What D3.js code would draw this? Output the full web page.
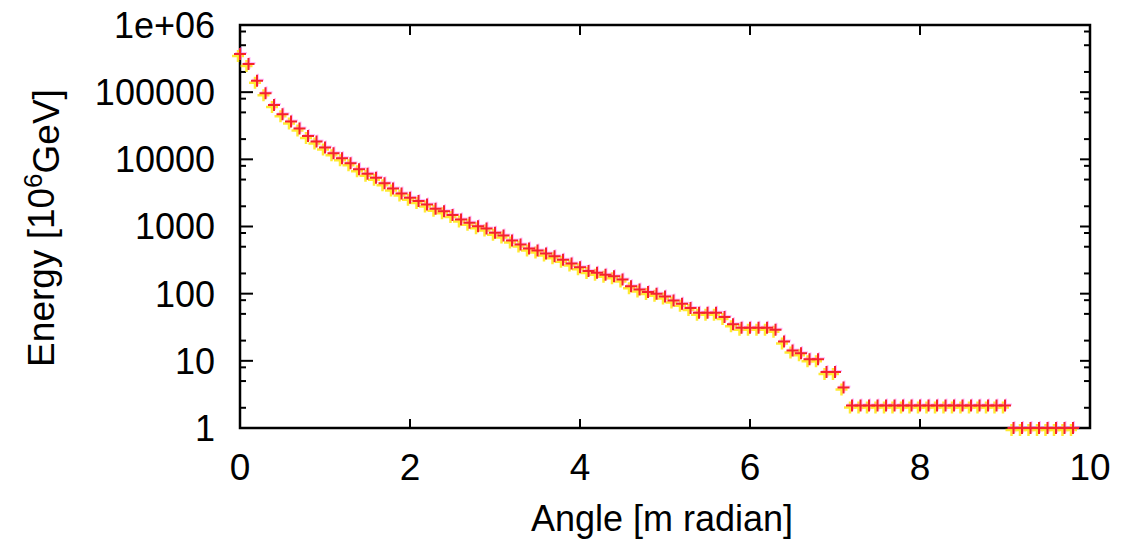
<!DOCTYPE html>
<html>
<head>
<meta charset="utf-8">
<script src="https://cdn.jsdelivr.net/npm/d3@7"></script>
<style>
  body { margin: 0; background: #fff; }
  svg { display: block; }
</style>
</head>
<body>
<div id="chart"></div>
<script>
// angle [m radian] and energy [10^6 GeV]
var angles = [0.0,0.1,0.2,0.3,0.4,0.5,0.6,0.7,0.8,0.9,
              1.0,1.1,1.2,1.3,1.4,1.5,1.6,1.7,1.8,1.9,
              2.0,2.1,2.2,2.3,2.4,2.5,2.6,2.7,2.8,2.9,
              3.0,3.1,3.2,3.3,3.4,3.5,3.6,3.7,3.8,3.9,
              4.0,4.1,4.2,4.3,4.4,4.5,4.6,4.7,4.8,4.9,
              5.0,5.1,5.2,5.3,5.4,5.5,5.6,5.7,5.8,5.9,
              6.0,6.1,6.2,6.3,6.4,6.5,6.6,6.7,6.8,6.9,
              7.0,7.1,7.2,7.3,7.4,7.5,7.6,7.7,7.8,7.9,
              8.0,8.1,8.2,8.3,8.4,8.5,8.6,8.7,8.8,8.9,
              9.0,9.1,9.2,9.3,9.4,9.5,9.6,9.7,9.8];
var energies = [369000,262000,148000,96600,64600,47000,36600,28700,22300,18400,
                15000,12300,10400,8710,7100,6120,5330,4390,3690,3110,
                2680,2390,2130,1840,1690,1480,1270,1140,1010,933,
                805,735,618,538,470,439,395,361,321,281,
                247,217,204,192,181,162,129,115,106,100,
                91,79,71,61,52,52,52,45,35,31,
                31,31,31,29,19.4,14.3,13,10.6,10.6,6.8,
                6.8,4.0,2.17,2.17,2.17,2.17,2.17,2.17,2.17,2.17,
                2.17,2.17,2.17,2.17,2.17,2.17,2.17,2.17,2.17,2.17,
                2.17,1,1,1,1,1,1,1,1];
var xTicks = [0, 2, 4, 6, 8, 10];
var yTicks = [1, 10, 100, 1000, 10000, 100000, 1000000];
var yTickLabels = ["1", "10", "100", "1000", "10000", "100000", "1e+06"];
var minorMult = [2, 5, 8];

function drawChart(){
    var W = 1138, H = 550;
    var pL = 240, pR = 1090, pT = 25, pB = 428;
    var font = "'Liberation Sans', Arial, sans-serif";

    var svg = d3.select("#chart").append("svg")
        .attr("width", W)
        .attr("height", H);

    var x = d3.scaleLinear().domain([0, 10]).range([pL, pR]);
    var y = d3.scaleLog().domain([1, 1e6]).range([pB, pT]);

    var g = svg.append("g");

    // inward ticks
    var majX = xTicks.filter(function(d){ return d > 0 && d < 10; });
    g.selectAll(".xtb").data(majX).enter().append("line")
        .attr("x1", function(d){ return x(d); }).attr("x2", function(d){ return x(d); })
        .attr("y1", pB).attr("y2", pB - 9)
        .attr("stroke", "#000").attr("stroke-width", 2);
    g.selectAll(".xtt").data(majX).enter().append("line")
        .attr("x1", function(d){ return x(d); }).attr("x2", function(d){ return x(d); })
        .attr("y1", pT).attr("y2", pT + 10)
        .attr("stroke", "#000").attr("stroke-width", 2);

    var majY = yTicks.filter(function(d){ return d > 1 && d < 1e6; });
    var minY = [];
    yTicks.slice(0, -1).forEach(function(d){
        minorMult.forEach(function(m){ minY.push(d * m); });
    });
    g.selectAll(".ytl").data(majY).enter().append("line")
        .attr("x1", pL).attr("x2", pL + 13)
        .attr("y1", function(d){ return y(d); }).attr("y2", function(d){ return y(d); })
        .attr("stroke", "#000").attr("stroke-width", 2);
    g.selectAll(".ytr").data(majY).enter().append("line")
        .attr("x1", pR).attr("x2", pR - 10)
        .attr("y1", function(d){ return y(d); }).attr("y2", function(d){ return y(d); })
        .attr("stroke", "#000").attr("stroke-width", 2);
    g.selectAll(".ymin").data(minY).enter().append("line")
        .attr("x1", pL).attr("x2", pL + 6)
        .attr("y1", function(d){ return y(d); }).attr("y2", function(d){ return y(d); })
        .attr("stroke", "#000").attr("stroke-width", 2);
    g.selectAll(".yminr").data(minY).enter().append("line")
        .attr("x1", pR).attr("x2", pR - 6)
        .attr("y1", function(d){ return y(d); }).attr("y2", function(d){ return y(d); })
        .attr("stroke", "#000").attr("stroke-width", 2);

    // frame
    g.append("rect")
        .attr("x", pL).attr("y", pT)
        .attr("width", pR - pL).attr("height", pB - pT)
        .attr("fill", "none")
        .attr("stroke", "#000")
        .attr("stroke-width", 2.5);

    // tick labels
    g.selectAll(".xl").data(xTicks).enter().append("text")
        .attr("x", function(d){ return x(d); })
        .attr("y", 480)
        .attr("text-anchor", "middle")
        .attr("font-family", font)
        .attr("font-size", "37px")
        .text(function(d){ return d; });

    g.selectAll(".yl").data(yTicks).enter().append("text")
        .attr("x", 215)
        .attr("y", function(d){ return y(d); })
        .attr("dy", "0.36em")
        .attr("text-anchor", "end")
        .attr("font-family", font)
        .attr("font-size", "36px")
        .text(function(d, i){ return yTickLabels[i]; });

    // axis titles
    g.append("text")
        .attr("x", 662).attr("y", 531)
        .attr("text-anchor", "middle")
        .attr("font-family", font)
        .attr("font-size", "36px")
        .text("Angle [m radian]");

    var yt = g.append("text")
        .attr("transform", "translate(54,228) rotate(-90)")
        .attr("text-anchor", "middle")
        .attr("font-family", font)
        .attr("font-size", "37px");
    yt.append("tspan").text("Energy [10");
    yt.append("tspan").attr("dy", "-0.45em").attr("font-size", "26px").text("6");
    yt.append("tspan").attr("dy", "0.45em").text("GeV]");

    // points: yellow misregistration under red crosses
    var pts = angles.map(function(a, i){ return [a, energies[i]]; });
    var s = 6;
    function cross(sel, dx, dy, col, w){
        sel.selectAll(null).data(pts).enter().append("path")
            .attr("d", function(d){
                var px = x(d[0]) + dx, py = y(d[1]) + dy;
                return "M" + (px - s) + "," + py + "H" + (px + s) +
                       "M" + px + "," + (py - s) + "V" + (py + s);
            })
            .attr("stroke", col)
            .attr("stroke-width", w)
            .attr("fill", "none");
    }
    cross(g.append("g").attr("opacity", 0.8), -2, 2, "#ffe600", 2.5);
    cross(g.append("g").attr("opacity", 0.35), 1, -1, "#ff40ff", 2);
    cross(g.append("g"), 0, 0, "#f5222d", 2);
}
drawChart();
</script>
</body>
</html>
